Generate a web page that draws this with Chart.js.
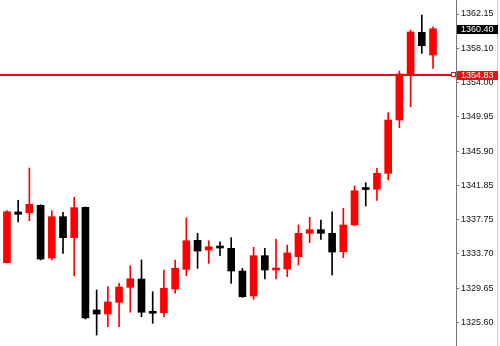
<!DOCTYPE html>
<html>
<head>
<meta charset="utf-8">
<script src="https://cdn.jsdelivr.net/npm/chart.js@4/dist/chart.umd.min.js"></script>
<style>
  html, body { margin: 0; padding: 0; background: #ffffff; }
  #wrap { width: 500px; height: 346px; position: relative; }
  canvas { display: block; }
</style>
</head>
<body>
<div id="wrap"><canvas id="c" width="500" height="346"></canvas></div>
<script>
// ---- data ----
const opens  = [1332.67,1338.68,1338.59,1339.47,1333.22,1338.12,1335.63,1339.23,1327.06,1326.58,
                1327.97,1329.74,1330.73,1326.82,1326.74,1329.55,1331.88,1335.32,1334.17,1334.53,
                1334.37,1331.68,1328.72,1333.50,1331.80,1331.92,1333.38,1336.15,1336.58,1336.15,
                1333.97,1337.14,1341.44,1341.37,1343.26,1349.58,1355.04,1359.98,1357.29];
const highs  = [1338.83,1340.06,1343.89,1339.54,1338.83,1338.64,1340.42,1339.27,1329.43,1329.82,
                1330.22,1332.31,1332.99,1329.23,1331.80,1332.99,1338.00,1336.15,1335.27,1335.15,
                1335.63,1332.00,1334.49,1334.37,1335.48,1334.76,1337.14,1338.05,1337.73,1338.71,
                1339.12,1341.76,1342.15,1343.86,1350.45,1355.39,1360.25,1362.03,1360.64];
const lows   = [1332.63,1337.49,1337.64,1332.99,1332.99,1333.78,1331.12,1325.99,1324.09,1325.08,
                1325.08,1326.79,1326.26,1325.48,1326.23,1329.04,1331.12,1332.00,1332.59,1333.50,
                1330.22,1328.56,1328.33,1330.73,1330.73,1331.01,1332.39,1335.04,1335.44,1331.21,
                1333.26,1337.05,1339.39,1340.06,1342.47,1348.67,1351.16,1357.49,1355.71];
const closes = [1338.71,1338.40,1339.59,1333.10,1338.12,1335.63,1339.19,1326.11,1326.58,1328.01,
                1329.78,1330.77,1326.79,1326.67,1329.63,1332.00,1335.27,1334.05,1334.56,1334.41,
                1331.68,1328.63,1333.50,1331.80,1332.00,1333.82,1336.15,1336.58,1336.15,1333.93,
                1337.14,1341.20,1341.34,1343.26,1349.58,1355.04,1360.02,1358.39,1360.40];
const tickValues = [1362.15,1358.10,1354.00,1349.95,1345.90,1341.85,1337.75,1333.70,1329.65,1325.60];
const lastPrice = 1360.40;
const levelPrice = 1354.83;

// ---- styles ----
const UP = '#ff0000', DOWN = '#000000';
const FONT = 'Liberation Sans, Arial, sans-serif';

const idx = opens.map((_, i) => i);
const colors = idx.map(i => closes[i] >= opens[i] ? UP : DOWN);
const bodyData = idx.map(i => ({ x: i, y: [opens[i], closes[i]] }));
const wickData = idx.map(i => ({ x: i, y: [lows[i], highs[i]] }));

const overlay = {
  id: 'overlay',
  afterDraw(chart) {
    const ctx = chart.ctx;
    const ys = chart.scales.y;
    const area = chart.chartArea;
    ctx.save();
    // right frame line
    ctx.strokeStyle = '#cfcfcf';
    ctx.lineWidth = 1;
    ctx.beginPath(); ctx.moveTo(497.5, 0); ctx.lineTo(497.5, 346); ctx.stroke();
    // level line (2px)
    const ly = Math.round(ys.getPixelForValue(levelPrice)) - 1;
    ctx.strokeStyle = '#e01010';
    ctx.lineWidth = 2;
    ctx.beginPath(); ctx.moveTo(area.left, ly); ctx.lineTo(area.right - 5, ly); ctx.stroke();
    ctx.lineWidth = 1;
    ctx.fillStyle = '#ffffff';
    ctx.fillRect(area.right - 4.5, ly - 2.5, 4, 4);
    ctx.strokeRect(area.right - 4.5, ly - 2.5, 4, 4);
    ctx.font = '9px ' + FONT;
    ctx.textBaseline = 'middle';
    ctx.textAlign = 'left';
    // level label
    ctx.fillStyle = '#ee1111';
    ctx.fillRect(area.right + 1, ly - 4, 41, 9);
    ctx.fillStyle = '#ffffff';
    ctx.fillText(levelPrice.toFixed(2), area.right + 5, ly + 0.5);
    // last price label
    const py = Math.round(ys.getPixelForValue(lastPrice));
    ctx.fillStyle = '#000000';
    ctx.fillRect(area.right + 1, py - 4, 41, 9);
    ctx.fillStyle = '#ffffff';
    ctx.fillText(lastPrice.toFixed(2), area.right + 5, py + 0.5);
    ctx.restore();
  }
};

new Chart(document.getElementById('c'), {
  type: 'bar',
  data: {
    datasets: [
      { data: bodyData, backgroundColor: colors, borderWidth: 0, barThickness: 7, grouped: false, minBarLength: 2, order: 0 },
      { data: wickData, backgroundColor: colors, borderWidth: 0, barThickness: 1, grouped: false, order: 1 }
    ]
  },
  options: {
    responsive: false,
    animation: false,
    devicePixelRatio: 1,
    layout: { padding: 0 },
    plugins: { legend: { display: false }, tooltip: { enabled: false } },
    scales: {
      x: { type: 'linear', min: -0.62, max: 40.05, display: false, offset: false },
      y: {
        position: 'right',
        min: 1322.79,
        max: 1363.81,
        afterBuildTicks: s => { s.ticks = tickValues.map(v => ({ value: v })); },
        afterFit: s => { s.width = 44; s.paddingTop = 0; s.paddingBottom = 0; },
        ticks: {
          autoSkip: false,
          padding: 2,
          color: '#111',
          font: { family: FONT, size: 9 },
          callback: v => Number(v).toFixed(2)
        },
        grid: { drawOnChartArea: false, drawTicks: true, tickLength: 3, color: '#777' },
        border: { display: true, color: '#777', width: 1 }
      }
    }
  },
  plugins: [overlay]
});
</script>
</body>
</html>
